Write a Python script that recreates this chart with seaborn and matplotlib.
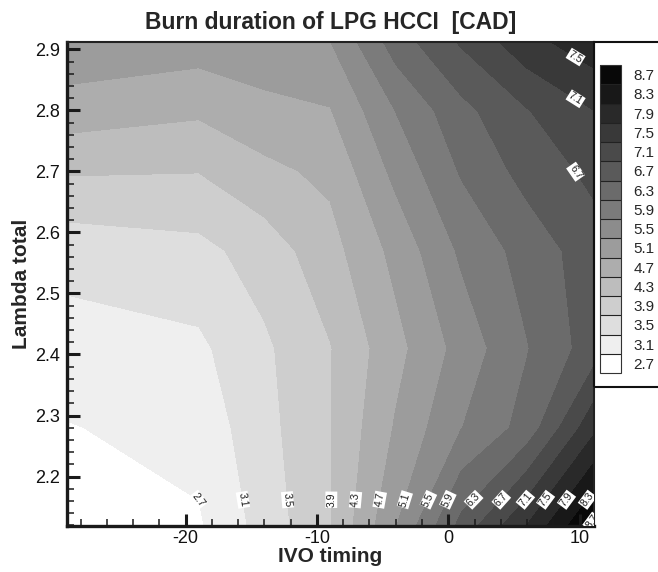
import numpy as np
import matplotlib
matplotlib.use("Agg")
import matplotlib.pyplot as plt
import seaborn as sns
from matplotlib.colors import ListedColormap, BoundaryNorm
from matplotlib.patches import Rectangle
from matplotlib.colorbar import Colorbar
import matplotlib.ticker as mticker

# ---------------- data ----------------
ivo_timing = [-29, -19, -14, -9, -4, 1, 6, 11.1]
lambda_total = [2.119, 2.28, 2.41, 2.57, 2.70, 2.80, 2.912]
# burn duration rows (bottom -> top), one value per IVO timing
bd_2119 = [2.40, 2.65, 3.26, 3.88, 5.08, 6.43, 7.52, 8.80]
bd_228 = [2.68, 2.84, 3.37, 3.88, 4.74, 5.49, 6.05, 7.40]
bd_241 = [2.92, 3.02, 3.43, 3.88, 4.57, 5.25, 5.88, 6.50]
bd_257 = [3.25, 3.38, 3.68, 4.15, 4.82, 5.57, 6.06, 6.52]
bd_270 = [3.94, 3.91, 4.20, 4.39, 5.21, 5.94, 6.44, 6.80]
bd_280 = [4.52, 4.37, 4.57, 4.68, 5.51, 6.18, 6.68, 7.10]
bd_2912 = [5.00, 4.90, 5.00, 5.09, 6.09, 6.75, 7.36, 7.75]
levels = [2.7, 3.1, 3.5, 3.9, 4.3, 4.7, 5.1, 5.5, 5.9, 6.3, 6.7, 7.1, 7.5, 7.9, 8.3, 8.7]
upper_labels = [6.7, 7.1, 7.5]

# ---------------- style ----------------
sns.set_theme(style="ticks")
plt.rcParams['font.family'] = ['Liberation Sans', 'DejaVu Sans']
plt.rcParams['axes.unicode_minus'] = False

Z = np.array([bd_2119, bd_228, bd_241, bd_257, bd_270, bd_280, bd_2912])
X, Y = np.meshgrid(ivo_timing, lambda_total)

n = len(levels)
grays = [1 - i * (0.97 / (n - 1)) for i in range(n)]
swatch_colors = [(g, g, g) for g in grays]

fig = plt.figure(figsize=(6.58, 5.72), dpi=100)
W, H = 658, 572
ax = fig.add_axes([67 / W, (H - 526) / H, (594 - 67) / W, (526 - 42) / H])
ax.set_axisbelow(False)

cmap = ListedColormap(swatch_colors[1:])
cmap.set_under(swatch_colors[0])
cmap.set_over((0.01, 0.01, 0.01))
norm = BoundaryNorm(levels, cmap.N)
ax.contourf(X, Y, Z, levels=levels, cmap=cmap, norm=norm, extend='both')
cs = ax.contour(X, Y, Z, levels=levels, linewidths=0)

ax.set_xlim(-29.04, 11.1)
ax.set_ylim(2.119, 2.912)


def crossings(level, ytarget=None, xtarget=None, ymin=None):
    i = int(np.argmin(np.abs(np.array(cs.levels) - level)))
    path = cs.get_paths()[i]
    out = []
    for poly in path.to_polygons(closed_only=False):
        for (x0, y0), (x1, y1) in zip(poly[:-1], poly[1:]):
            if ytarget is not None and (y0 - ytarget) * (y1 - ytarget) <= 0 and y0 != y1:
                t = (ytarget - y0) / (y1 - y0)
                out.append((x0 + t * (x1 - x0), ytarget))
            if xtarget is not None and (x0 - xtarget) * (x1 - xtarget) <= 0 and x0 != x1:
                t = (xtarget - x0) / (x1 - x0)
                yy = y0 + t * (y1 - y0)
                if ymin is None or yy > ymin:
                    out.append((xtarget, yy))
    return out


pts = []
for lv in levels:
    found = None
    for yt in (2.162, 2.15, 2.14, 2.132, 2.126):
        c = crossings(lv, ytarget=yt)
        if c:
            found = c[0]
            break
    if found:
        pts.append(found)
for lv in upper_labels:
    c = crossings(lv, xtarget=9.7, ymin=2.55)
    if c:
        pts.append(c[0])

labels = ax.clabel(cs, manual=pts, inline=False, fmt='%.1f', fontsize=7.5, colors='k')
for t in labels:
    t.set_bbox(dict(facecolor='white', edgecolor='none', pad=0.7))
    t.set_clip_on(True)

# axes styling
for side in ['left', 'bottom']:
    ax.spines[side].set_linewidth(2.4)
    ax.spines[side].set_color('k')
for side in ['top', 'right']:
    ax.spines[side].set_linewidth(1.5)
    ax.spines[side].set_color('#222222')
ax.xaxis.set_major_locator(mticker.MultipleLocator(10))
ax.xaxis.set_minor_locator(mticker.MultipleLocator(2))
ax.yaxis.set_major_locator(mticker.MultipleLocator(0.1))
ax.yaxis.set_minor_locator(mticker.MultipleLocator(0.02))
ax.yaxis.set_major_formatter(mticker.FormatStrFormatter('%.1f'))
ax.tick_params(which='major', direction='in', length=9, width=2.2, labelsize=13,
               top=False, right=False, color='k', labelcolor='#111111')
ax.tick_params(which='minor', direction='in', length=5, width=1.1,
               top=False, right=False, color='k')
ax.tick_params(axis='y', which='major', pad=5)
ax.tick_params(axis='x', which='major', pad=3)

ax.set_xlabel('IVO timing', fontsize=15, fontweight='bold', labelpad=0)
ax.set_ylabel('Lambda total', fontsize=15, fontweight='bold', labelpad=3)
ax.set_title('Burn duration of LPG HCCI  [CAD]', fontsize=16.5, fontweight='bold', pad=9)

# legend box
fig.patches.append(Rectangle((594 / W, (H - 387) / H), 0.2, (387 - 42) / H,
                             transform=fig.transFigure, fill=False,
                             edgecolor='#111111', linewidth=1.5, zorder=0))

cax = fig.add_axes([600 / W, (H - 373) / H, 21 / W, 308 / H])
sw_cmap = ListedColormap(swatch_colors)
sw_norm = BoundaryNorm(np.arange(n + 1), n)
cb = Colorbar(cax, cmap=sw_cmap, norm=sw_norm, ticks=np.arange(n) + 0.5, drawedges=True)
cb.set_ticklabels([f'{v:.1f}' for v in levels])
cb.outline.set_linewidth(0.8)
cb.outline.set_edgecolor('#333333')
cb.dividers.set_linewidth(0.8)
cb.dividers.set_color('#222222')
cax.yaxis.set_tick_params(which='both', length=0, width=0, pad=9, labelsize=11)
cax.minorticks_off()

fig.savefig('out.png', dpi=100)
